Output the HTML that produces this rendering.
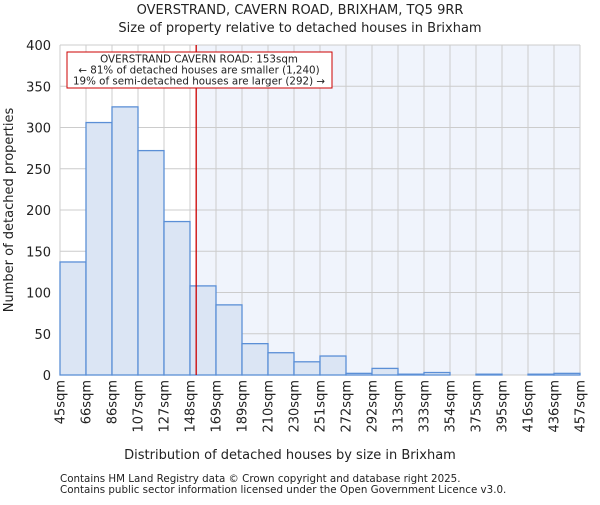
<!DOCTYPE html>
<html><head><meta charset="utf-8"><style>
body{margin:0;background:#fff;font-family:"Liberation Sans","DejaVu Sans",sans-serif}
text{font-family:"DejaVu Sans","Liberation Sans",sans-serif;fill:#222}
</style></head><body>
<svg id="c" width="600" height="500" xmlns="http://www.w3.org/2000/svg">
<text x="300" y="14" text-anchor="middle" font-size="13">OVERSTRAND, CAVERN ROAD, BRIXHAM, TQ5 9RR</text>
<text x="300" y="32" text-anchor="middle" font-size="13">Size of property relative to detached houses in Brixham</text>
<g id="plot"></g>
<text x="290" y="459" text-anchor="middle" font-size="13">Distribution of detached houses by size in Brixham</text>
<text transform="translate(13,210) rotate(-90)" text-anchor="middle" font-size="13">Number of detached properties</text>
<text x="60" y="482" font-size="10.3" fill="#444">Contains HM Land Registry data © Crown copyright and database right 2025.</text>
<text x="60" y="493" font-size="10.3" fill="#444">Contains public sector information licensed under the Open Government Licence v3.0.</text>
</svg>
<script>
const tickLabels=["45sqm","66sqm","86sqm","107sqm","127sqm","148sqm","169sqm","189sqm","210sqm","230sqm","251sqm","272sqm","292sqm","313sqm","333sqm","354sqm","375sqm","395sqm","416sqm","436sqm","457sqm"];
const counts=[137,306,325,272,186,108,85,38,27,16,23,2,8,1,3,0,1,0,1,2];
const yTicks=[0,50,100,150,200,250,300,350,400];
const propertySize=153;
const binEdges=[45,66,86,107,127,148,169,189,210,230,251,272,292,313,333,354,375,395,416,436,457];
const L=60,R=580,T=45,B=375,yMax=400;
const xi=i=>L+i*(R-L)/(tickLabels.length-1);
const y=v=>B-v/yMax*(B-T);
function xv(v){for(let i=0;i<binEdges.length-1;i++){if(v<=binEdges[i+1])return xi(i)+(v-binEdges[i])/(binEdges[i+1]-binEdges[i])*(xi(i+1)-xi(i));}return R;}
const NS="http://www.w3.org/2000/svg",g=document.getElementById('plot');
function mk(t,a){const e=document.createElementNS(NS,t);for(const k in a)e.setAttribute(k,a[k]);g.appendChild(e);return e;}
const px=xv(propertySize);
let e=mk('rect',{x:px,y:T,width:R-px,height:B-T,fill:'#f0f4fc'});


tickLabels.forEach((t,i)=>{
 let l=mk('line',{x1:xi(i),x2:xi(i),y1:T,y2:B,stroke:'#ccc','stroke-width':1});
 
 
 let tx=mk('text',{transform:`translate(${xi(i)+4.5},${B+5}) rotate(-90)`,'text-anchor':'end','font-size':13});
 tx.textContent=t;
 
 
});
yTicks.forEach(v=>{
 let l=mk('line',{x1:L,x2:R,y1:y(v),y2:y(v),stroke:'#ccc','stroke-width':1});
 
 
 let tx=mk('text',{x:L-9,y:y(v)+5,'text-anchor':'end','font-size':13});
 tx.textContent=v;
 
 
});
counts.forEach((c,i)=>{
 let r=mk('rect',{x:xi(i),y:y(c),width:xi(i+1)-xi(i),height:B-y(c),fill:'#dbe5f4',stroke:'#5b8fd6','stroke-width':1.3});
 
 
});
e=mk('line',{x1:px,x2:px,y1:T,y2:B,stroke:'#cc0000','stroke-width':1.3});


e=mk('rect',{x:67,y:52,width:265,height:36,fill:'#fff',stroke:'#cc0000','stroke-width':1});


["OVERSTRAND CAVERN ROAD: 153sqm","← 81% of detached houses are smaller (1,240)","19% of semi-detached houses are larger (292) →"].forEach((s,i)=>{
 let t=mk('text',{x:199,y:62.5+i*11,'text-anchor':'middle','font-size':10.3});
 t.textContent=s;
 
 
});
</script>
</body></html>
